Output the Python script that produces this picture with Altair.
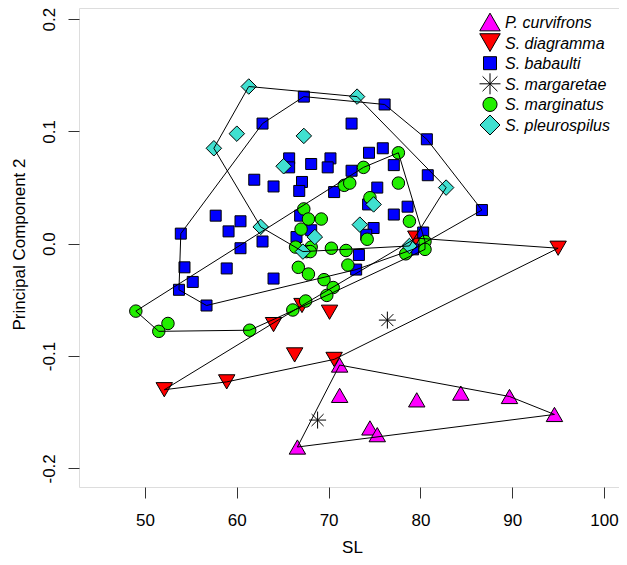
import altair as alt
import pandas as pd

# ---- data ----
species = ["P. curvifrons", "S. diagramma", "S. babaulti",
           "S. margaretae", "S. marginatus", "S. pleurospilus"]

curv_sl = [71.2, 71.2, 79.6, 84.4, 89.7, 94.6, 74.5, 75.3, 66.6]
curv_pc = [-0.108, -0.135, -0.139, -0.133, -0.136, -0.152, -0.164, -0.170, -0.181]

diag_sl = [95.0, 79.5, 67.1, 70.1, 64.0, 66.3, 70.6, 58.9, 52.1]
diag_pc = [-0.004, 0.005, -0.055, -0.061, -0.072, -0.099, -0.103, -0.123, -0.130]

baba_sl = [67.3, 76.1, 62.8, 72.5, 80.7, 75.9, 74.4, 65.7, 70.2, 69.9, 65.7, 68.1,
           77.1, 72.5, 80.8, 61.9, 67.1, 64.0, 75.3, 66.8, 70.6, 74.3, 57.7, 66.9,
           77.1, 78.6, 60.4, 59.1, 53.9, 68.1, 74.9, 74.1, 66.5, 80.3, 60.4, 62.8,
           73.3, 79.2, 54.3, 58.9, 73.0, 55.2, 64.0, 53.7, 56.7, 86.7]
baba_pc = [0.131, 0.124, 0.107, 0.107, 0.093, 0.085, 0.081, 0.076, 0.076, 0.068, 0.068, 0.071,
           0.070, 0.065, 0.061, 0.057, 0.055, 0.051, 0.050, 0.047, 0.046, 0.035, 0.025, 0.025,
           0.026, 0.033, 0.020, 0.011, 0.009, 0.012, 0.014, 0.008, 0.006, 0.010, -0.004, 0.002,
           -0.010, -0.005, -0.021, -0.022, -0.023, -0.034, -0.031, -0.041, -0.055, 0.030]

marg_sl = [76.4, 68.8]
marg_pc = [-0.068, -0.157]

mgin_sl = [77.6, 73.8, 71.7, 72.3, 77.6, 74.5, 67.3, 69.2, 67.8, 78.8, 67.0, 74.2,
           66.4, 68.1, 67.6, 68.0, 70.3, 71.9, 80.5, 80.5, 78.4, 72.1, 66.7, 67.8,
           69.5, 70.5, 69.8, 67.5, 66.1, 49.0, 52.5, 51.5, 61.4]
mgin_pc = [0.081, 0.068, 0.052, 0.054, 0.054, 0.041, 0.031, 0.022, 0.022, 0.020, 0.013, 0.004,
           -0.003, -0.003, -0.007, -0.007, -0.004, -0.006, 0.002, -0.005, -0.009, -0.019, -0.021, -0.027,
           -0.032, -0.039, -0.046, -0.051, -0.059, -0.060, -0.071, -0.078, -0.077]

pleu_sl = [61.3, 73.1, 60.0, 67.3, 57.5, 65.1, 82.8, 74.9, 73.4, 62.6, 68.5, 67.2, 78.8]
pleu_pc = [0.140, 0.131, 0.098, 0.096, 0.085, 0.069, 0.050, 0.035, 0.017, 0.015, 0.006, -0.007, -0.002]

x_ticks = [50, 60, 70, 80, 90, 100]
y_ticks = [-0.2, -0.1, 0.0, 0.1, 0.2]

# ---- styles ----
fills = ["#FF00FF", "#FF0000", "#0000FF", "#000000", "#22EE00", "#40E0D0"]
asterisk = ("M-1,0L1,0M0,-1L0,1M-0.7071,-0.7071L0.7071,0.7071"
            "M-0.7071,0.7071L0.7071,-0.7071")
shapes = ["triangle-up", "triangle-down", "square", asterisk, "circle", "diamond"]
plot_sizes = [270, 270, 121, 289, 156, 240]
legend_sizes = [420, 420, 169, 441, 200, 400]

groups = [(curv_sl, curv_pc), (diag_sl, diag_pc), (baba_sl, baba_pc),
          (marg_sl, marg_pc), (mgin_sl, mgin_pc), (pleu_sl, pleu_pc)]

rows = []
for sp, (xs, ys) in zip(species, groups):
    for a, b in zip(xs, ys):
        rows.append({"species": sp, "SL": a, "PC2": b})
points = pd.DataFrame(rows)


def convex_hull(pts):
    pts = sorted(set(pts))
    if len(pts) < 3:
        return []

    def cross(o, a, b):
        return (a[0] - o[0]) * (b[1] - o[1]) - (a[1] - o[1]) * (b[0] - o[0])

    lower = []
    for p in pts:
        while len(lower) >= 2 and cross(lower[-2], lower[-1], p) <= 0:
            lower.pop()
        lower.append(p)
    upper = []
    for p in reversed(pts):
        while len(upper) >= 2 and cross(upper[-2], upper[-1], p) <= 0:
            upper.pop()
        upper.append(p)
    return lower[:-1] + upper[:-1]


hrows = []
for sp, (xs, ys) in zip(species, groups):
    h = convex_hull(list(zip(xs, ys)))
    if not h:
        continue
    h = h + [h[0]]
    for i, (a, b) in enumerate(h):
        hrows.append({"species": sp, "SL": a, "PC2": b, "vi": i})
hulls = pd.DataFrame(hrows)

legend_df = pd.DataFrame({"species": species})

FONT = "Liberation Sans"

xscale = alt.Scale(domain=[42.81, 101.63], nice=False, zero=False)
yscale = alt.Scale(domain=[-0.2166, 0.2099], nice=False, zero=False)
shape_scale = alt.Scale(domain=species, range=shapes)
fill_scale = alt.Scale(domain=species, range=fills)

xaxis = alt.Axis(values=x_ticks, title="SL", grid=False, domain=False,
                 tickSize=11, tickColor="#333333", labelFontSize=17,
                 labelColor="black", labelBaseline="alphabetic", labelPadding=27,
                 labelFont=FONT, titleFont=FONT, titleFontSize=17,
                 titleFontWeight="normal", titleColor="black",
                 titleBaseline="alphabetic", titleX=273, titleY=65,
                 labelFlush=False, labelOverlap=False)
yaxis = alt.Axis(values=y_ticks, title="Principal Component 2", grid=False,
                 domain=False, tickSize=11, tickColor="#333333",
                 labelFontSize=17, labelColor="black", labelAngle=270,
                 labelAlign="center", labelBaseline="alphabetic", labelPadding=14,
                 labelExpr="datum.value < 0 ? '-' + format(-datum.value, '.1f') : format(datum.value, '.1f')",
                 labelFont=FONT, titleFont=FONT, titleFontSize=17,
                 titleFontWeight="normal", titleColor="black", titleAngle=270,
                 titleAlign="center", titleBaseline="alphabetic",
                 titleX=-55, titleY=236, labelFlush=False, labelOverlap=False)

pts_layer = alt.Chart(points).mark_point(
    filled=True, stroke="black", strokeWidth=1, opacity=1
).encode(
    x=alt.X("SL:Q", scale=xscale, axis=xaxis),
    y=alt.Y("PC2:Q", scale=yscale, axis=yaxis),
    shape=alt.Shape("species:N", scale=shape_scale, legend=None),
    fill=alt.Fill("species:N", scale=fill_scale, legend=None),
    size=alt.Size("species:N", scale=alt.Scale(type="ordinal", domain=species, range=plot_sizes), legend=None),
)

hull_layer = alt.Chart(hulls).mark_line(color="black", strokeWidth=1).encode(
    x=alt.X("SL:Q", scale=xscale, axis=xaxis),
    y=alt.Y("PC2:Q", scale=yscale, axis=yaxis),
    detail="species:N",
    order=alt.Order("vi:Q"),
)

data_layer = alt.layer(pts_layer, hull_layer)

legend_y = alt.Y("species:N", axis=None,
                 scale=alt.Scale(type="point", domain=species, range=[14, 117], padding=0))

legend_syms = alt.Chart(legend_df).mark_point(
    filled=True, stroke="black", strokeWidth=1, opacity=1
).encode(
    x=alt.value(411),
    y=legend_y,
    shape=alt.Shape("species:N", scale=shape_scale, legend=None),
    fill=alt.Fill("species:N", scale=fill_scale, legend=None),
    size=alt.Size("species:N", scale=alt.Scale(type="ordinal", domain=species, range=legend_sizes), legend=None),
)

legend_text = alt.Chart(legend_df).mark_text(
    align="left", baseline="middle", font=FONT, fontSize=16,
    fontStyle="italic", color="black", dy=1
).encode(
    x=alt.value(426),
    y=legend_y,
    text="species:N",
)

legend_layer = alt.layer(legend_syms, legend_text)

chart = alt.layer(data_layer, legend_layer).resolve_scale(
    y="independent", size="independent"
).properties(
    width=540, height=479,
    autosize=alt.AutoSizeParams(type="none"),
    padding={"left": 71, "top": 0, "right": 0, "bottom": 70},
).configure_view(
    stroke="#333333", strokeWidth=1
).configure(
    font=FONT, background="white"
)

chart.save("out.html", embed_options={"renderer": "svg", "actions": False})
